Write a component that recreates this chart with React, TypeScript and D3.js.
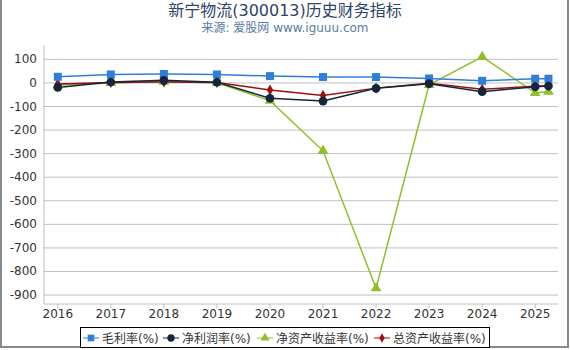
import React from 'react';
import * as d3 from 'd3';

// x positions (years; last point is the latest quarter)
const periods = [2016, 2017, 2018, 2019, 2020, 2021, 2022, 2023, 2024, 2025, 2025.25];
const yearTicks = [2016, 2017, 2018, 2019, 2020, 2021, 2022, 2023, 2024, 2025];
const yTicks = [100, 0, -100, -200, -300, -400, -500, -600, -700, -800, -900];

const grossMargin = [26, 36, 38, 36, 29, 25, 25, 19, 9, 18, 18];
const netMargin = [-19, 4, 11, 3, -65, -77, -23, -3, -37, -16, -13];
const roe = [-9, 0, 6, 1, -75, -288, -871, -8, 111, -42, -37];
const roa = [-5, 2, 4, 2, -30, -53, -22, -1, -27, -14, -12];

const series = [
  { name: '毛利率(%)', values: grossMargin, color: '#2f7fd8', symbol: d3.symbolSquare, size: 64 },
  { name: '净利润率(%)', values: netMargin, color: '#14253d', symbol: d3.symbolCircle, size: 60 },
  { name: '净资产收益率(%)', values: roe, color: '#8fbf2a', symbol: d3.symbolTriangle, size: 50 },
  { name: '总资产收益率(%)', values: roa, color: '#9e0f0f', symbol: d3.symbolDiamond, size: 36 },
];
// drawing order, last on top
const drawOrder = [2, 3, 0, 1];

const FONT = "'DejaVu Sans', 'Noto Sans CJK SC', sans-serif";

export default function App() {
  const W = 570;
  const H = 350;
  const left = 44, right = 558, top = 45, bottom = 304;

  const x = d3.scaleLinear().domain([2015.74, 2025.43]).range([left, right]);
  const y = d3.scaleLinear().domain([-938, 161]).range([bottom, top]);

  const line = d3.line<number>()
    .x((_, i) => x(periods[i]))
    .y(d => y(d));

  const legendX = [91, 171, 265, 382];
  const ordered = drawOrder.map(i => series[i]);

  return (
    <svg width={W} height={H} style={{ position: 'absolute', left: 0, top: 0 }} fontFamily={FONT}>
      <rect x={0} y={0} width={W} height={H} fill="#fff" />
      <rect x={1} y={-2} width={W - 3} height={H - 1} fill="none" stroke="#888" strokeWidth={2} />

      <text x={285} y={16} textAnchor="middle" fontSize={16} fill="#2d4566">新宁物流(300013)历史财务指标</text>
      <text x={285} y={32} textAnchor="middle" fontSize={12} fill="#5a7ca3">来源: 爱股网 www.iguuu.com</text>

      {/* grid + y labels */}
      {yTicks.map(t => (
        <g key={t}>
          <line x1={left} x2={right} y1={y(t)} y2={y(t)} stroke="#c0c0c0" strokeWidth={1} />
          <text x={37} y={y(t) + 4} textAnchor="end" fontSize={12} fill="#333">{t}</text>
        </g>
      ))}
      <line x1={left} x2={left} y1={top} y2={bottom} stroke="#c0c0c0" />
      <line x1={left} x2={right} y1={bottom} y2={bottom} stroke="#c0c0c0" />

      {yearTicks.map(t => (
        <g key={t}>
          <line x1={x(t)} x2={x(t)} y1={bottom} y2={bottom + 4} stroke="#c0c0c0" />
          <text x={x(t)} y={318} textAnchor="middle" fontSize={12} fill="#333">{t}</text>
        </g>
      ))}

      {/* lines */}
      {ordered.map(s => (
        <path key={s.name} d={line(s.values) || ''} fill="none" stroke={s.color} strokeWidth={1.5} />
      ))}
      {ordered.map(s => (
        <g key={s.name + 'm'}>
          {s.values.map((v, i) => (
            <path key={i}
              transform={`translate(${x(periods[i])},${y(v)})`}
              d={d3.symbol().type(s.symbol).size(s.size)() || ''}
              fill={s.color} />
          ))}
        </g>
      ))}

      {/* legend */}
      <rect x={80.5} y={327.5} width={409} height={20} fill="#fff" stroke="#000" strokeWidth={1} />
      {series.map((s, i) => (
        <g key={s.name + 'l'} transform={`translate(${legendX[i]},338)`}>
          <line x1={-8} x2={8} y1={0} y2={0} stroke={s.color} strokeOpacity={0.5} strokeWidth={2} />
          <path d={d3.symbol().type(s.symbol).size(s.size * 0.7)() || ''} fill={s.color} />
          <text x={11} y={4.5} fontSize={12} fill="#333">{s.name}</text>
        </g>
      ))}
    </svg>
  );
}
